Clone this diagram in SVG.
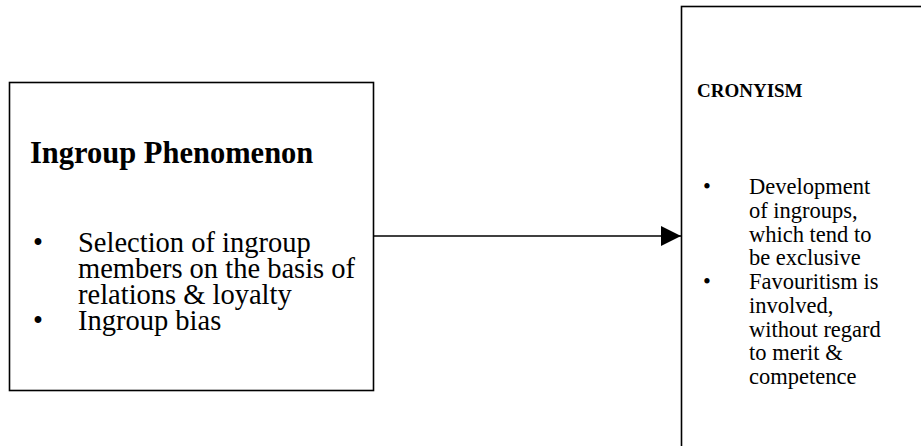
<svg xmlns="http://www.w3.org/2000/svg" width="921" height="446" viewBox="0 0 921 446">
  <style>
    .box { fill: #ffffff; stroke: #000000; stroke-width: 1.6; }
    .title { font-family: "Liberation Serif", "Times New Roman", serif; font-weight: bold; fill: #000000; }
    .body { font-family: "Liberation Serif", "Times New Roman", serif; fill: #000000; }
    .link { stroke: #000000; stroke-width: 1.6; fill: none; }
  </style>
  <defs>
    <marker id="arrowhead" markerUnits="userSpaceOnUse" markerWidth="20" markerHeight="20" refX="20" refY="10" orient="auto">
      <polygon points="0,0 20,10 0,20" fill="#000000"/>
    </marker>
  </defs>
  <rect width="921" height="446" fill="#ffffff"/>

  <g id="ingroup-phenomenon">
    <rect class="box" x="9.5" y="82.5" width="364" height="308"/>
    <text class="title" x="30" y="163" font-size="30.5">Ingroup Phenomenon</text>
    <g class="body" font-size="28.5">
      <text x="33" y="252">•</text>
      <text x="78" y="252">Selection of ingroup</text>
      <text x="78" y="278">members on the basis of</text>
      <text x="78" y="304">relations &amp; loyalty</text>
      <text x="33" y="330">•</text>
      <text x="78" y="330">Ingroup bias</text>
    </g>
  </g>

  <g id="cronyism">
    <rect class="box" x="681.5" y="6.5" width="260" height="460"/>
    <text class="title" x="697" y="97" font-size="19">CRONYISM</text>
    <g class="body" font-size="22.5">
      <text x="703" y="194">•</text>
      <text x="749" y="194">Development</text>
      <text x="749" y="218">of ingroups,</text>
      <text x="749" y="242">which tend to</text>
      <text x="749" y="265">be exclusive</text>
      <text x="703" y="289">•</text>
      <text x="749" y="289">Favouritism is</text>
      <text x="749" y="313">involved,</text>
      <text x="749" y="337">without regard</text>
      <text x="749" y="360">to merit &amp;</text>
      <text x="749" y="384">competence</text>
    </g>
  </g>

  <g id="connectors">
    <line class="link" x1="374" y1="236" x2="681" y2="236" marker-end="url(#arrowhead)"/>
  </g>
</svg>
